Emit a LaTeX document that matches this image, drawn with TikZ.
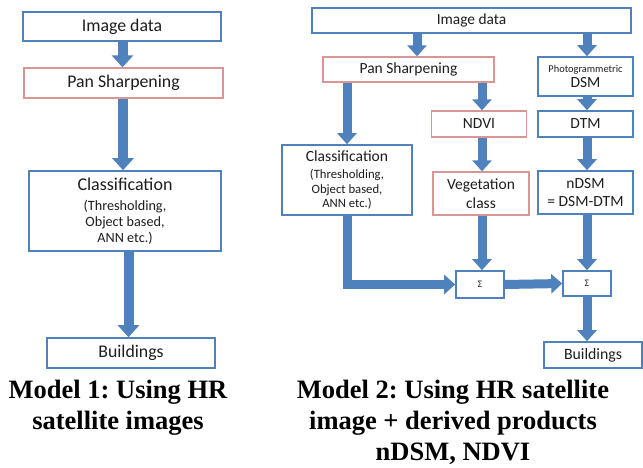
\documentclass[tikz,border=0pt]{standalone}
\usepackage{fontspec}
\setmainfont{Carlito}
\newfontfamily\capfont{Liberation Serif}
\usetikzlibrary{arrows.meta}
\definecolor{bblue}{HTML}{4F81BD}
\definecolor{pinkb}{HTML}{D99694}
\definecolor{txt}{HTML}{1E1E1E}
\frenchspacing
\begin{document}
\begin{tikzpicture}[x=1pt,y=-1pt,
  bbox/.style={draw=bblue,line width=1.6pt,fill=white,inner sep=0pt,text=txt,align=center},
  pbox/.style={bbox,draw=pinkb,line width=1.3pt},
  fat/.style={draw=bblue,line width=10pt,-{Triangle[width=21pt,length=12pt]}},
  fatb/.style={draw=bblue,line width=9pt,-{Triangle[width=19pt,length=11pt]}},
  captext/.style={font=\capfont\bfseries\fontsize{26.5}{31}\selectfont,align=center,text=black}]
\useasboundingbox (0,0) rectangle (643,468);
% ---------- Model 1 ----------
\node[bbox,minimum width=198pt,minimum height=29pt,font=\fontsize{17.8}{20}\selectfont] (img1) at (122,26.5) {Image data};
\node[pbox,minimum width=199pt,minimum height=30pt,font=\fontsize{17.8}{20}\selectfont] (ps1) at (123.5,83) {Pan Sharpening};
\node[bbox,minimum width=192pt,minimum height=80pt,font=\fontsize{14.2}{16}\selectfont] (cls1) at (125,211)
  {\fontsize{18}{20}\selectfont Classification\\[4pt](Thresholding,\\ Object based,\\ ANN etc.)};
\node[bbox,minimum width=168pt,minimum height=30pt,font=\fontsize{17.8}{20}\selectfont] (bld1) at (131,353) {Buildings};
\coordinate (c1a) at (122.5,0);
\coordinate (c1b) at (123,0);
\coordinate (c1c) at (128.5,0);
\draw[fat] (img1.south -| c1a) -- (ps1.north -| c1a);
\draw[fat] (ps1.south -| c1b) -- (cls1.north -| c1b);
\draw[fat] (cls1.south -| c1c) -- (bld1.north -| c1c);
\node[captext] (cap1) at (118,408) {Model 1: Using HR\\satellite images};
% ---------- Model 2 ----------
\node[bbox,minimum width=319pt,minimum height=25pt,font=\fontsize{15.4}{18}\selectfont] (img2) at (471.5,20.5) {Image data};
\node[pbox,minimum width=171pt,minimum height=25pt,font=\fontsize{15.5}{18}\selectfont] (ps2) at (408.5,69.5) {Pan Sharpening};
\node[bbox,minimum width=95pt,minimum height=39pt,font=\fontsize{15.5}{15}\selectfont] (dsm) at (585.5,76.5)
  {\fontsize{10.4}{13}\selectfont Photogrammetric\\DSM};
\node[pbox,minimum width=95pt,minimum height=26pt,font=\fontsize{15.5}{18}\selectfont] (ndvi) at (479,124) {NDVI};
\node[bbox,minimum width=95pt,minimum height=26pt,font=\fontsize{15.5}{18}\selectfont] (dtm) at (585.5,124) {DTM};
\node[bbox,minimum width=130pt,minimum height=70pt,font=\fontsize{12.7}{14.5}\selectfont] (cls2) at (347,180)
  {\fontsize{15.6}{17}\selectfont Classification\\[2.5pt](Thresholding,\\ Object based,\\ ANN etc.)};
\node[pbox,minimum width=96pt,minimum height=43pt,font=\fontsize{15.5}{18.5}\selectfont] (veg) at (481,193.5) {Vegetation\\class};
\node[bbox,minimum width=95pt,minimum height=43pt,font=\fontsize{15.5}{18}\selectfont] (ndsm) at (585.5,192.5) {nDSM\\= DSM-DTM};
\node[bbox,minimum width=48pt,minimum height=27pt,font=\fontsize{10}{12}\selectfont] (s1) at (480,284.5) {Σ};
\node[bbox,minimum width=48pt,minimum height=25pt,font=\fontsize{10}{12}\selectfont] (s2) at (587,283.5) {Σ};
\node[bbox,minimum width=98pt,minimum height=26pt,font=\fontsize{15.8}{18}\selectfont] (bld2) at (593,355) {Buildings};
\coordinate (c2a) at (417,0);
\coordinate (c2b) at (587,0);
\coordinate (c2c) at (347,0);
\coordinate (c2d) at (482,0);
\draw[fatb] (img2.south -| c2a) -- (ps2.north -| c2a);
\draw[fatb] (img2.south -| c2b) -- (dsm.north -| c2b);
\draw[fatb] (dsm.south -| c2b) -- (dtm.north -| c2b);
\draw[fatb] (dtm.south -| c2b) -- (ndsm.north -| c2b);
\draw[fatb] (ndsm.south -| c2b) -- (s2.north -| c2b);
\draw[fatb] (s2.south -| c2b) -- (bld2.north -| c2b);
\draw[fatb] (ps2.south -| c2c) -- (cls2.north -| c2c);
\draw[fatb] (ps2.south -| c2d) -- (ndvi.north -| c2d);
\draw[fatb] (ndvi.south -| c2d) -- (veg.north -| c2d);
\draw[fatb] (veg.south -| c2d) -- (s1.north -| c2d);
\draw[fatb,line join=miter] (cls2.south -| c2c) |- (s1.west);
\draw[fatb] (s1.east) -- (s2.west);
\node[captext] (cap2) at (453,422) {Model 2: Using HR satellite\\image + derived products\\nDSM, NDVI};
\end{tikzpicture}
\end{document}
